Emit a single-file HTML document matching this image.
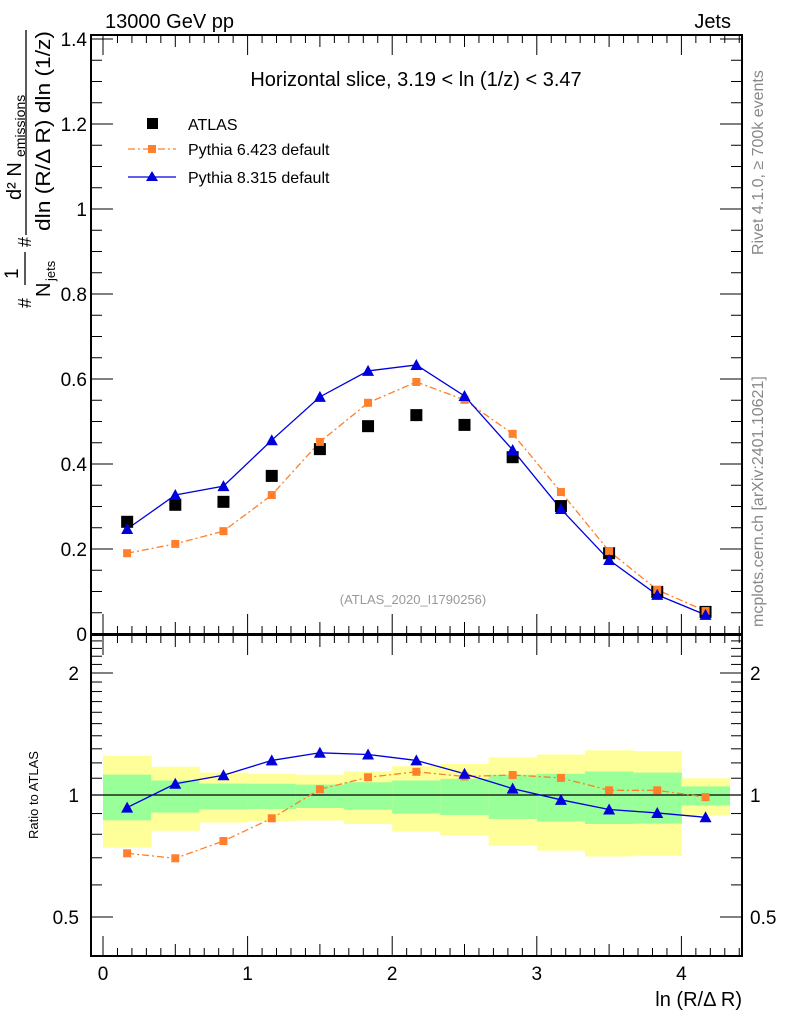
<!DOCTYPE html>
<html><head><meta charset="utf-8"><style>
html,body{margin:0;padding:0;background:#fff}
svg{display:block;font-family:"Liberation Sans",sans-serif}
</style></head><body>
<svg id="chart" width="786" height="1024" viewBox="0 0 786 1024">
<g id="bands"></g>
<g id="frames"></g>
<g id="marks"></g>
<text x="105" y="28" font-size="20">13000 GeV pp</text>
<text x="731" y="28" font-size="20" text-anchor="end">Jets</text>
<text x="416" y="86" font-size="20" text-anchor="middle">Horizontal slice, 3.19 &lt; ln (1/z) &lt; 3.47</text>
<text x="413" y="604" font-size="13" fill="#999" text-anchor="middle">(ATLAS_2020_I1790256)</text>
<g>
<rect x="147" y="118" width="11" height="11" fill="#000"/>
<text x="188" y="130" font-size="16">ATLAS</text>
<line x1="128" y1="149" x2="176" y2="149" stroke="#ff7f2a" stroke-width="1.3" stroke-dasharray="7,3,2,3"/>
<rect x="148" y="145" width="8" height="8" fill="#ff7f2a"/>
<text x="188" y="155" font-size="16">Pythia 6.423 default</text>
<line x1="128" y1="177" x2="176" y2="177" stroke="#0000dd" stroke-width="1.3"/>
<polygon points="152,171 146,181 158,181" fill="#0000dd"/>
<text x="188" y="183" font-size="16">Pythia 8.315 default</text>
</g>
<g transform="translate(0,330) rotate(-90)">
<text x="22" y="31" font-size="18">#</text>
<text x="51" y="18" font-size="19">1</text>
<line x1="45" y1="25" x2="78" y2="25" stroke="#000" stroke-width="1.3"/>
<text x="33" y="50" font-size="20">N</text>
<text x="49" y="55" font-size="13">jets</text>
<text x="83" y="31" font-size="18">#</text>
<line x1="95" y1="26" x2="300" y2="26" stroke="#000" stroke-width="1.3"/>
<text x="130" y="21" font-size="20">d² N</text>
<text x="173" y="25" font-size="14">emissions</text>
<text x="99" y="50" font-size="20" textLength="200" lengthAdjust="spacingAndGlyphs">dln (R/Δ R) dln (1/z)</text>
</g>
<text x="38" y="795" font-size="13" text-anchor="middle" transform="rotate(-90 38 795)">Ratio to ATLAS</text>
<text x="742" y="1006" font-size="20" text-anchor="end">ln (R/Δ R)</text>
<text x="763" y="627" font-size="16" fill="#888" transform="rotate(-90 763 627)">mcplots.cern.ch [arXiv:2401.10621]</text>
<text x="763" y="255" font-size="16" fill="#888" transform="rotate(-90 763 255)">Rivet 4.1.0, ≥ 700k events</text>
</svg>
<script>
const xCenters=[0.167,0.5,0.833,1.167,1.5,1.833,2.167,2.5,2.833,3.167,3.5,3.833,4.167];
const binEdges=[0,0.333,0.667,1,1.333,1.667,2,2.333,2.667,3,3.333,3.667,4,4.333];
const atlas=[0.264,0.304,0.311,0.372,0.435,0.489,0.515,0.492,0.416,0.301,0.19,0.099,0.052];
const py6=[0.19,0.212,0.242,0.327,0.452,0.544,0.593,0.551,0.471,0.334,0.195,0.104,0.054];
const py8=[0.247,0.327,0.348,0.456,0.558,0.619,0.633,0.56,0.433,0.294,0.174,0.092,0.045];
const ratio6=[0.718,0.698,0.77,0.876,1.033,1.106,1.141,1.111,1.12,1.102,1.027,1.027,0.988];
const ratio8=[0.931,1.066,1.119,1.217,1.271,1.259,1.217,1.128,1.037,0.973,0.921,0.903,0.881];
const yelHi=[1.25,1.174,1.136,1.128,1.122,1.143,1.178,1.194,1.238,1.259,1.289,1.283,1.1];
const yelLo=[0.741,0.816,0.855,0.86,0.865,0.848,0.812,0.794,0.75,0.729,0.705,0.708,0.89];
const grnHi=[1.123,1.086,1.067,1.066,1.061,1.075,1.086,1.096,1.122,1.128,1.143,1.136,1.05];
const grnLo=[0.866,0.905,0.922,0.924,0.929,0.92,0.9,0.893,0.873,0.86,0.848,0.85,0.942];
const mainTicks=[0,0.2,0.4,0.6,0.8,1,1.2,1.4];
const mainTickLabels=["0","0.2","0.4","0.6","0.8","1","1.2","1.4"];
const ratioTicks=[0.5,1,2];
const ratioTickLabels=["0.5","1","2"];
const xTicks=[0,1,2,3,4];
const xTickLabels=["0","1","2","3","4"];

const NS="http://www.w3.org/2000/svg";
const L=91,R=742,MT=35,MB=634,RT=635,RB=956;
const X=v=>103+144.6*v;
const Y=v=>634-425*v;
const YR=r=>795-122*Math.log2(r);
function mk(tag,attrs,parent){const e=document.createElementNS(NS,tag);for(const k in attrs)e.setAttribute(k,attrs[k]);parent.appendChild(e);return e;}
const bands=document.getElementById('bands'),frames=document.getElementById('frames'),marks=document.getElementById('marks');

for(let i=0;i<xCenters.length;i++){
 let r=mk('rect',{x:X(binEdges[i]),y:YR(yelHi[i]),width:X(binEdges[i+1])-X(binEdges[i])+0.5,height:YR(yelLo[i])-YR(yelHi[i]),fill:'#ffff99'},bands);
 
 
 let g=mk('rect',{x:X(binEdges[i]),y:YR(grnHi[i]),width:X(binEdges[i+1])-X(binEdges[i])+0.5,height:YR(grnLo[i])-YR(grnHi[i]),fill:'#99ff99'},bands);
 
 
}
let one=mk('line',{x1:L,x2:R,y1:YR(1),y2:YR(1),stroke:'#000','stroke-width':1.2},bands);



let f1=mk('rect',{x:L,y:MT,width:R-L,height:MB-MT,fill:'none',stroke:'#000','stroke-width':2},frames);


let f2=mk('rect',{x:L,y:RT,width:R-L,height:RB-RT,fill:'none',stroke:'#000','stroke-width':2},frames);


for(let v=0;v<=1.41;v+=0.05){const maj=Math.abs(v/0.2-Math.round(v/0.2))<1e-6;const len=maj?22:11;
 mk('line',{x1:L,x2:L+len,y1:Y(v),y2:Y(v),stroke:'#000'},frames);mk('line',{x1:R,x2:R-len,y1:Y(v),y2:Y(v),stroke:'#000'},frames);}
mainTicks.forEach((v,i)=>{let t=mk('text',{x:L-4,y:Y(v)+7,'font-size':19,'text-anchor':'end'},frames);t.textContent=mainTickLabels[i];
 
 });
const rmin=[0.4,0.5,0.6,0.7,0.8,0.9,1,1.1,1.2,1.3,1.4,1.5,1.6,1.7,1.8,1.9,2,2.1,2.2,2.3,2.4];
rmin.forEach(r=>{const maj=ratioTicks.includes(r);const len=maj?22:11;
 mk('line',{x1:L,x2:L+len,y1:YR(r),y2:YR(r),stroke:'#000'},frames);mk('line',{x1:R,x2:R-len,y1:YR(r),y2:YR(r),stroke:'#000'},frames);});
ratioTicks.forEach((v,i)=>{let t=mk('text',{x:L-12,y:YR(v)+7,'font-size':19,'text-anchor':'end'},frames);t.textContent=ratioTickLabels[i];
 
 
 let t2=mk('text',{x:R+8,y:YR(v)+7,'font-size':19},frames);t2.textContent=ratioTickLabels[i];
 
 });
for(let k=0;k<=44;k++){const v=k/10;const maj=k%10==0;const mid=k%5==0;const len=maj?20:(mid?12:8);
 [[MT,1],[RT,1],[MB,-1],[RB,-1]].forEach(([y0,d])=>{mk('line',{x1:X(v),x2:X(v),y1:y0,y2:y0+d*len,stroke:'#000'},frames);});}
xTicks.forEach((v,i)=>{let t=mk('text',{x:X(v),y:980,'font-size':19,'text-anchor':'middle'},frames);t.textContent=xTickLabels[i];
 
 });

function line(vals,fy,col,dash,name){const pts=vals.map((v,i)=>X(xCenters[i])+','+fy(v)).join(' ');
 const a={points:pts,fill:'none',stroke:col,'stroke-width':1.3};if(dash)a['stroke-dasharray']=dash;
 let p=mk('polyline',a,marks);
 
 }
line(py6,Y,'#ff7f2a','7,3,2,3','pythia6-line');
line(py8,Y,'#0000dd',null,'pythia8-line');
line(ratio6,YR,'#ff7f2a','7,3,2,3','pythia6-ratio-line');
line(ratio8,YR,'#0000dd',null,'pythia8-ratio-line');
atlas.forEach((v,i)=>{let r=mk('rect',{x:X(xCenters[i])-6,y:Y(v)-6,width:12,height:12,fill:'#000'},marks);
 
 });
function sq(vals,fy,name){vals.forEach((v,i)=>{let r=mk('rect',{x:X(xCenters[i])-4,y:fy(v)-4,width:8,height:8,fill:'#ff7f2a'},marks);
 
 });}
function tri(vals,fy,name){vals.forEach((v,i)=>{const x=X(xCenters[i]),y=fy(v);
 let p=mk('polygon',{points:`${x},${y-6} ${x-6},${y+5} ${x+6},${y+5}`,fill:'#0000dd'},marks);
 
 });}
sq(py6,Y,'pythia6-point');tri(py8,Y,'pythia8-point');
sq(ratio6,YR,'pythia6-ratio-point');tri(ratio8,YR,'pythia8-ratio-point');
</script>
</body></html>
